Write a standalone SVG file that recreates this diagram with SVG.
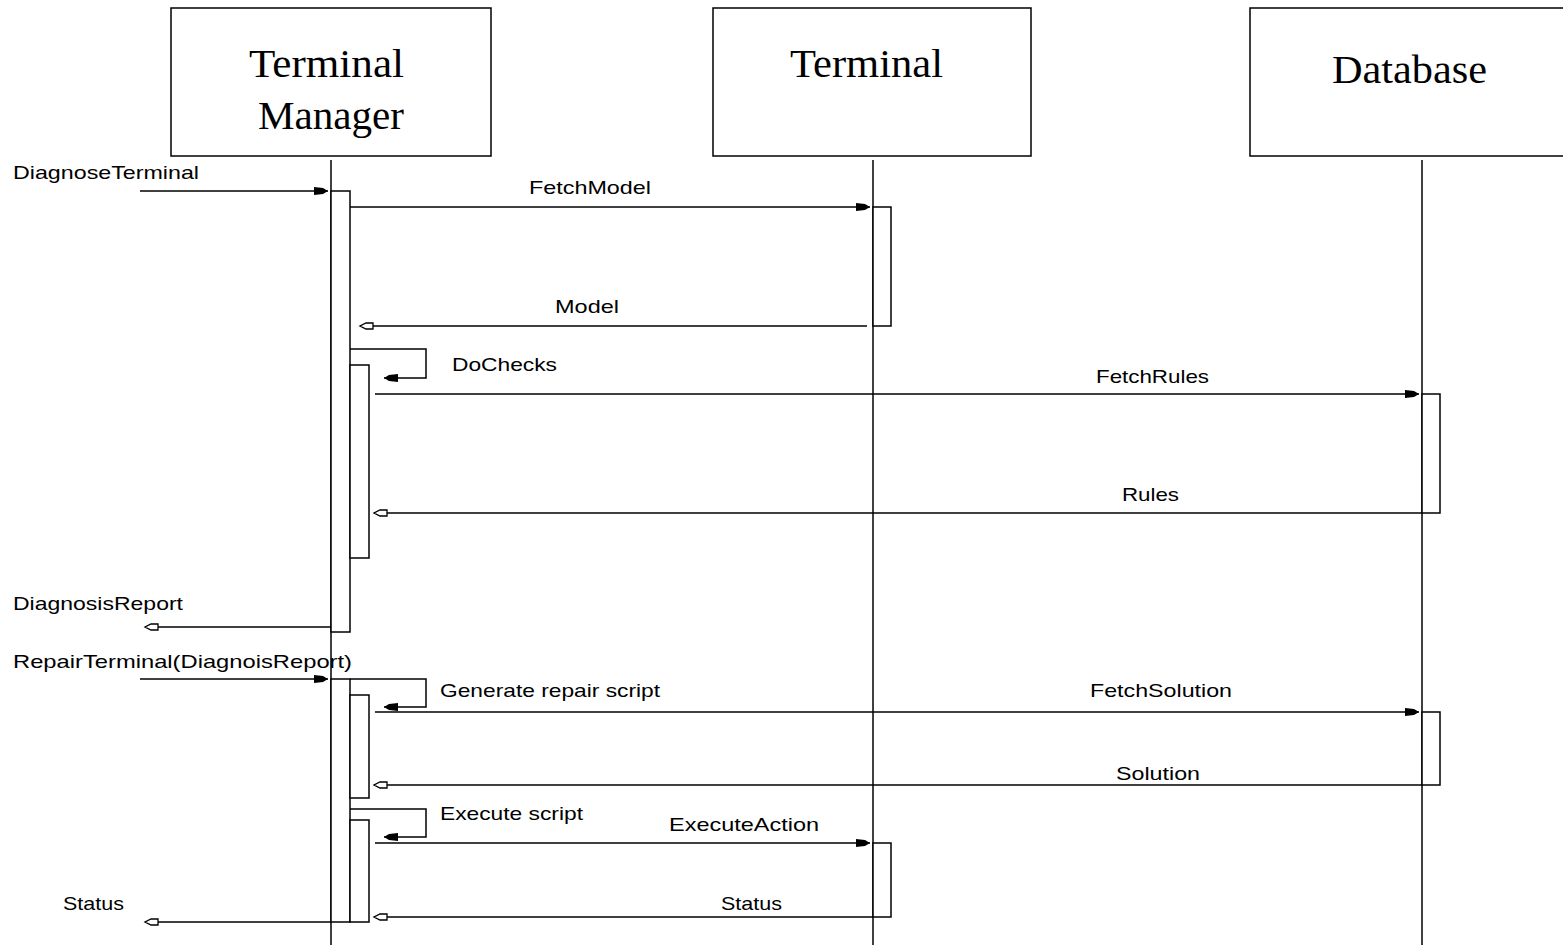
<svg xmlns="http://www.w3.org/2000/svg" width="1563" height="945" viewBox="0 0 1563 945">
<style>
.box{fill:#fff;stroke:#000;stroke-width:1.5}
.life{stroke:#000;stroke-width:1.5;fill:none}
.act{fill:#fff;stroke:#000;stroke-width:1.5}
.msg{stroke:#000;stroke-width:1.5;fill:none}
.title{font-family:"Liberation Serif",serif;font-size:39px;fill:#000}
.lbl{font-family:"Liberation Sans",sans-serif;font-size:19px;fill:#000}
</style>
<defs>
<marker id="fill" markerUnits="userSpaceOnUse" markerWidth="16" markerHeight="12" refX="14" refY="6" orient="auto">
<path d="M0,2 L9,3 L14,6 L9,9 L0,10 z" fill="#000"/>
</marker>
<marker id="open" markerUnits="userSpaceOnUse" markerWidth="16" markerHeight="12" refX="14" refY="6" orient="auto">
<path d="M1,3 L8,3 L14,6 L8,9 L1,9 z" fill="#fff" stroke="#000" stroke-width="1.3"/>
</marker>
</defs>
<rect width="1563" height="945" fill="#fff"/>
<g id="terminal-manager">
<rect class="box" x="171" y="8" width="320" height="148"/>
<text class="title" x="249" y="77" textLength="155" lengthAdjust="spacingAndGlyphs">Terminal</text>
<text class="title" x="258" y="129" textLength="146" lengthAdjust="spacingAndGlyphs">Manager</text>
<line class="life" x1="331" y1="160" x2="331" y2="945"/>
</g>
<g id="terminal">
<rect class="box" x="713" y="8" width="318" height="148"/>
<text class="title" x="790" y="77" textLength="153" lengthAdjust="spacingAndGlyphs">Terminal</text>
<line class="life" x1="873" y1="160" x2="873" y2="945"/>
</g>
<g id="database">
<rect class="box" x="1250" y="8" width="320" height="148"/>
<text class="title" x="1332" y="83" textLength="155" lengthAdjust="spacingAndGlyphs">Database</text>
<line class="life" x1="1422" y1="160" x2="1422" y2="945"/>
</g>
<g id="activations">
<rect class="act" x="331" y="191" width="19" height="441"/>
<rect class="act" x="350" y="365" width="19" height="193"/>
<rect class="act" x="873" y="207" width="18" height="119"/>
<rect class="act" x="1422" y="394" width="18" height="119"/>
<rect class="act" x="331" y="679" width="19" height="243"/>
<rect class="act" x="350" y="695" width="19" height="103"/>
<rect class="act" x="1422" y="712" width="18" height="73"/>
<rect class="act" x="350" y="820" width="19" height="102"/>
<rect class="act" x="873" y="843" width="18" height="74"/>
</g>
<g id="connectors">
<line class="msg" x1="140" y1="191" x2="328" y2="191" marker-end="url(#fill)"/>
<line class="msg" x1="350" y1="207" x2="870" y2="207" marker-end="url(#fill)"/>
<line class="msg" x1="867" y1="326" x2="360" y2="326" marker-end="url(#open)"/>
<polyline class="msg" points="350,349 426,349 426,378 384,378" marker-end="url(#fill)"/>
<line class="msg" x1="375" y1="394" x2="1419" y2="394" marker-end="url(#fill)"/>
<line class="msg" x1="1422" y1="513" x2="374" y2="513" marker-end="url(#open)"/>
<line class="msg" x1="331" y1="627" x2="145" y2="627" marker-end="url(#open)"/>
<line class="msg" x1="140" y1="679" x2="328" y2="679" marker-end="url(#fill)"/>
<polyline class="msg" points="350,679 426,679 426,707 384,707" marker-end="url(#fill)"/>
<line class="msg" x1="375" y1="712" x2="1419" y2="712" marker-end="url(#fill)"/>
<line class="msg" x1="1422" y1="785" x2="374" y2="785" marker-end="url(#open)"/>
<polyline class="msg" points="350,809 426,809 426,837 384,837" marker-end="url(#fill)"/>
<line class="msg" x1="375" y1="843" x2="870" y2="843" marker-end="url(#fill)"/>
<line class="msg" x1="873" y1="917" x2="374" y2="917" marker-end="url(#open)"/>
<line class="msg" x1="331" y1="922" x2="145" y2="922" marker-end="url(#open)"/>
</g>
<g id="labels">
<text class="lbl" x="13" y="179" textLength="186" lengthAdjust="spacingAndGlyphs">DiagnoseTerminal</text>
<text class="lbl" x="529" y="194" textLength="122" lengthAdjust="spacingAndGlyphs">FetchModel</text>
<text class="lbl" x="555" y="313" textLength="64" lengthAdjust="spacingAndGlyphs">Model</text>
<text class="lbl" x="452" y="371" textLength="105" lengthAdjust="spacingAndGlyphs">DoChecks</text>
<text class="lbl" x="1096" y="383" textLength="113" lengthAdjust="spacingAndGlyphs">FetchRules</text>
<text class="lbl" x="1122" y="501" textLength="57" lengthAdjust="spacingAndGlyphs">Rules</text>
<text class="lbl" x="13" y="610" textLength="170" lengthAdjust="spacingAndGlyphs">DiagnosisReport</text>
<text class="lbl" x="13" y="668" textLength="339" lengthAdjust="spacingAndGlyphs">RepairTerminal(DiagnoisReport)</text>
<text class="lbl" x="440" y="697" textLength="220" lengthAdjust="spacingAndGlyphs">Generate repair script</text>
<text class="lbl" x="1090" y="697" textLength="142" lengthAdjust="spacingAndGlyphs">FetchSolution</text>
<text class="lbl" x="1116" y="780" textLength="84" lengthAdjust="spacingAndGlyphs">Solution</text>
<text class="lbl" x="440" y="820" textLength="143" lengthAdjust="spacingAndGlyphs">Execute script</text>
<text class="lbl" x="669" y="831" textLength="150" lengthAdjust="spacingAndGlyphs">ExecuteAction</text>
<text class="lbl" x="721" y="910" textLength="61" lengthAdjust="spacingAndGlyphs">Status</text>
<text class="lbl" x="63" y="910" textLength="61" lengthAdjust="spacingAndGlyphs">Status</text>
</g>
</svg>
